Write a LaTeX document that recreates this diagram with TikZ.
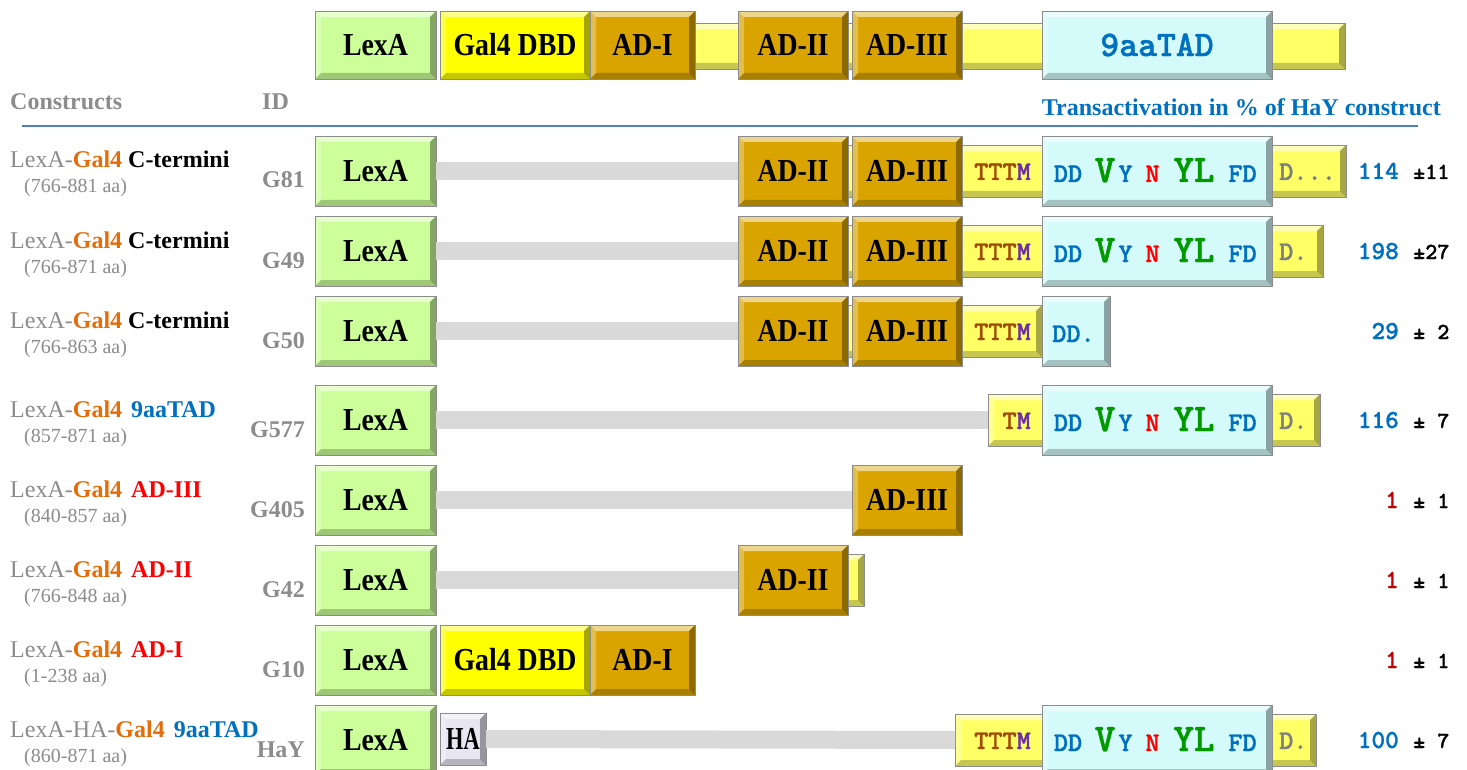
\documentclass[tikz,border=0pt]{standalone}
\usepackage{fontspec}
\setmainfont{Liberation Serif}
% heavy slab-serif typewriter face for sequences and values
\newfontfamily\monof{lmmonolt10-bold.otf}[FakeBold=1.2]

\definecolor{lexg}{HTML}{CCFF99}
\definecolor{galy}{HTML}{FFFF00}
\definecolor{adgold}{HTML}{D9A300}
\definecolor{paley}{HTML}{FFFF66}
\definecolor{tadc}{HTML}{D4FAFA}
\definecolor{hagray}{HTML}{E8E6F0}
\definecolor{linkg}{HTML}{D9D9D9}
\definecolor{txgray}{HTML}{8C8C8C}
\definecolor{galor}{HTML}{E46C0A}
\definecolor{tadblue}{HTML}{0070C0}
\definecolor{adred}{HTML}{FF0000}
\definecolor{numred}{HTML}{C00000}
\definecolor{seqgreen}{HTML}{009900}
\definecolor{thrbrown}{HTML}{A04A00}
\definecolor{metpurple}{HTML}{7030A0}
\definecolor{dgray}{HTML}{7F7F7F}
\definecolor{rulebl}{HTML}{4F81BD}

% condensed bold label inside a domain box
\newcommand\dl[1]{\scalebox{0.87}[1]{#1}}
% domain box from its corners: name, x1, y1, x2, y2, style, text
\newcommand\bx[7]{%
  \pgfmathsetmacro\bxw{(#4)-(#2)}\pgfmathsetmacro\bxh{(#5)-(#3)}%
  \node[#6, anchor=north west, minimum width=\bxw pt, minimum height=\bxh pt] (#1) at ({#2},{#3}) {#7};}
% full-height box and thinner bar around a row centre
\newcommand\bb[6]{\bx{#1}{#2}{(#4)-35}{#3}{(#4)+35}{dom=#5}{#6}}
\newcommand\yb[4]{\bx{#1}{#2}{(#4)-26}{#3}{(#4)+26}{dom=paley}{}}
% construct name, residue range and ID on the left
\newcommand\constr[5]{%
  \node[lab1, anchor=base west] (#1-l1) at (10,{#2-3}) {#3};
  \node[lab2, anchor=base west] (#1-l2) at (24,{#2+22}) {#4};
  \node[idlab, anchor=base east] (#1-id) at (305,{#2+17}) {#5};}
% 9aaTAD sequence motif inside a cyan box starting at x=1042
\newcommand\tadseq[2]{%
  \node[sqs,text=tadblue] (#1-dd) at (1068,{#2+11}) {DD};
  \node[sqb,text=seqgreen] (#1-v) at (1105,{#2+11}) {V};
  \node[sqs,text=tadblue] (#1-y) at (1125.5,{#2+11}) {Y};
  \node[sqs,text=adred] (#1-n) at (1152.5,{#2+11}) {N};
  \node[sqb,text=seqgreen] (#1-yl) at (1194,{#2+11}) {YL};
  \node[sqs,text=tadblue] (#1-fd) at (1242.5,{#2+11}) {FD};}
\newcommand\thr[3]{\node[sqs, anchor=base east] (#1-t) at (1031,{#2+9}) {#3};}
\newcommand\tail[3]{\node[sqs, anchor=base west, text=dgray] (#1-tail) at (1279,{#2+9}) {#3};}
\newcommand\act[4]{%
  \node[numf, anchor=base east, text=#3] (#1-val) at (1399,{#2+8}) {#4};}
\newcommand\err[3]{\node[pmf, anchor=base west] (#1-err) at (1413,{#2+8}) {#3};}

\tikzset{
  bevel/.style={path picture={
    \path (path picture bounding box.north west) coordinate (pnw)
          (path picture bounding box.north east) coordinate (pne)
          (path picture bounding box.south west) coordinate (psw)
          (path picture bounding box.south east) coordinate (pse);
    \fill[white,opacity=.55] (pnw) -- (pne) -- ([shift={(-6pt,-6pt)}]pne) -- ([shift={(6pt,-6pt)}]pnw) -- cycle;
    \fill[white,opacity=.3] (pnw) -- ([shift={(6pt,-6pt)}]pnw) -- ([shift={(6pt,6pt)}]psw) -- (psw) -- cycle;
    \fill[black,opacity=.35] (pne) -- (pse) -- ([shift={(-6pt,6pt)}]pse) -- ([shift={(-6pt,-6pt)}]pne) -- cycle;
    \fill[black,opacity=.22] (psw) -- (pse) -- ([shift={(-6pt,6pt)}]pse) -- ([shift={(6pt,6pt)}]psw) -- cycle;
  }},
  dom/.style={draw=black!45, line width=0.9pt, inner sep=0pt, outer sep=0pt,
    fill=#1, bevel, font=\bfseries\fontsize{32}{32}\selectfont},
  link/.style={draw=linkg, line width=18pt, line cap=butt},
  lab1/.style={inner sep=0pt, font=\fontsize{24}{24}\selectfont},
  lab2/.style={inner sep=0pt, text=txgray, font=\fontsize{20}{20}\selectfont},
  idlab/.style={inner sep=0pt, text=txgray, font=\bfseries\fontsize{24}{24}\selectfont},
  hdr/.style={inner sep=0pt, font=\bfseries\fontsize{24}{24}\selectfont},
  sqs/.style={inner sep=0pt, anchor=base, font=\monof\fontsize{27}{27}\selectfont},
  sqb/.style={inner sep=0pt, anchor=base, font=\monof\fontsize{39}{39}\selectfont},
  numf/.style={inner sep=0pt, font=\monof\fontsize{26}{26}\selectfont},
  pmf/.style={inner sep=0pt, font=\monof\fontsize{23}{23}\selectfont},
}

\newcommand\gal{{\bfseries\color{galor}Gal4}}
\newcommand\lx{{\color{txgray}LexA-}}

\begin{document}
\begin{tikzpicture}[x=1pt, y=-1pt]
\useasboundingbox (0,0) rectangle (1467,770);
\fill[white] (0,0) rectangle (1467,770);
\clip (0,0) rectangle (1467,770);

% full-length Gal4 domain map
\bx{h-lexa}{315}{11}{436}{79}{dom=lexg}{\dl{LexA}}
\bx{h-bar}{690}{23}{1345}{69}{dom=paley}{}
\bx{h-dbd}{440}{11}{590}{79}{dom=galy}{\dl{Gal4 DBD}}
\bx{h-ad1}{590}{11}{695}{79}{dom=adgold}{\dl{AD-I}}
\bx{h-ad2}{738}{11}{848}{79}{dom=adgold}{\dl{AD-II}}
\bx{h-ad3}{852}{11}{962}{79}{dom=adgold}{\dl{AD-III}}
\bx{h-tad}{1042}{11}{1272}{79}{dom=tadc}{\color{tadblue}\monof\fontsize{36}{36}\selectfont 9aaTAD}

% column headings and rule
\node[hdr, anchor=base west, text=txgray] (hd-con) at (10,110) {Constructs};
\node[hdr, anchor=base west, text=txgray] (hd-id) at (262,110) {ID};
\node[hdr, anchor=base east, text=tadblue] (hd-ta) at (1441,116) {Transactivation in \% of HaY construct};
\coordinate (rule-l) at (22,126);
\coordinate (rule-r) at (1418,126);
\draw[rulebl, line width=1.3pt] (rule-l) -- (rule-r);

% G81
\constr{g81}{171}{\lx\gal{} {\bfseries C-termini}}{(766-881 aa)}{G81}
\bb{g81-lexa}{315}{436}{171}{lexg}{\dl{LexA}}
\yb{g81-bar}{745}{1346}{171}
\bb{g81-ad2}{738}{848}{171}{adgold}{\dl{AD-II}}
\bb{g81-ad3}{852}{962}{171}{adgold}{\dl{AD-III}}
\bb{g81-tad}{1042}{1272}{171}{tadc}{}
\draw[link] (g81-lexa.east) -- (g81-ad2.west);
\thr{g81}{171}{\color{thrbrown}TTT\color{metpurple}M}
\tadseq{g81}{171}
\tail{g81}{171}{D...}
\act{g81}{171}{tadblue}{114}
\err{g81}{171}{±11}

% G49
\constr{g49}{251}{\lx\gal{} {\bfseries C-termini}}{(766-871 aa)}{G49}
\bb{g49-lexa}{315}{436}{251}{lexg}{\dl{LexA}}
\yb{g49-bar}{745}{1323}{251}
\bb{g49-ad2}{738}{848}{251}{adgold}{\dl{AD-II}}
\bb{g49-ad3}{852}{962}{251}{adgold}{\dl{AD-III}}
\bb{g49-tad}{1042}{1272}{251}{tadc}{}
\draw[link] (g49-lexa.east) -- (g49-ad2.west);
\thr{g49}{251}{\color{thrbrown}TTT\color{metpurple}M}
\tadseq{g49}{251}
\tail{g49}{251}{D.}
\act{g49}{251}{tadblue}{198}
\err{g49}{251}{±27}

% G50
\constr{g50}{331}{\lx\gal{} {\bfseries C-termini}}{(766-863 aa)}{G50}
\bb{g50-lexa}{315}{436}{331}{lexg}{\dl{LexA}}
\yb{g50-bar}{745}{1042}{331}
\bb{g50-ad2}{738}{848}{331}{adgold}{\dl{AD-II}}
\bb{g50-ad3}{852}{962}{331}{adgold}{\dl{AD-III}}
\bb{g50-tad}{1042}{1110}{331}{tadc}{}
\draw[link] (g50-lexa.east) -- (g50-ad2.west);
\thr{g50}{331}{\color{thrbrown}TTT\color{metpurple}M}
\node[sqs, anchor=base west, text=tadblue] (g50-dd) at (1052,342) {DD.};
\act{g50}{331}{tadblue}{29}
\err{g50}{331}{± 2}

% G577
\constr{g577}{420}{\lx\gal\hspace{9pt}{\bfseries\color{tadblue}9aaTAD}}{(857-871 aa)}{G577}
\bb{g577-lexa}{315}{436}{420}{lexg}{\dl{LexA}}
\yb{g577-bar}{988}{1320}{420}
\bb{g577-tad}{1042}{1272}{420}{tadc}{}
\draw[link] (g577-lexa.east) -- (g577-bar.west);
\thr{g577}{420}{\color{thrbrown}T\color{metpurple}M}
\tadseq{g577}{420}
\tail{g577}{420}{D.}
\act{g577}{420}{tadblue}{116}
\err{g577}{420}{± 7}

% G405
\constr{g405}{500}{\lx\gal\hspace{9pt}{\bfseries\color{adred}AD-III}}{(840-857 aa)}{G405}
\bb{g405-lexa}{315}{436}{500}{lexg}{\dl{LexA}}
\bb{g405-ad3}{852}{962}{500}{adgold}{\dl{AD-III}}
\draw[link] (g405-lexa.east) -- (g405-ad3.west);
\act{g405}{500}{numred}{1}
\err{g405}{500}{± 1}

% G42
\constr{g42}{580}{\lx\gal\hspace{9pt}{\bfseries\color{adred}AD-II}}{(766-848 aa)}{G42}
\bb{g42-lexa}{315}{436}{580}{lexg}{\dl{LexA}}
\yb{g42-bar}{745}{864}{580}
\bb{g42-ad2}{738}{848}{580}{adgold}{\dl{AD-II}}
\draw[link] (g42-lexa.east) -- (g42-ad2.west);
\act{g42}{580}{numred}{1}
\err{g42}{580}{± 1}

% G10
\constr{g10}{660}{\lx\gal\hspace{9pt}{\bfseries\color{adred}AD-I}}{(1-238 aa)}{G10}
\bb{g10-lexa}{315}{436}{660}{lexg}{\dl{LexA}}
\bb{g10-dbd}{440}{590}{660}{galy}{\dl{Gal4 DBD}}
\bb{g10-ad1}{590}{695}{660}{adgold}{\dl{AD-I}}
\act{g10}{660}{numred}{1}
\err{g10}{660}{± 1}

% HaY
\constr{hay}{740}{{\color{txgray}LexA-HA-}\gal\hspace{9pt}{\bfseries\color{tadblue}9aaTAD}}{(860-871 aa)}{HaY}
\bb{hay-lexa}{315}{436}{740}{lexg}{\dl{LexA}}
\bx{hay-ha}{440}{713}{486}{765}{dom=hagray}{\scalebox{0.7}[1]{HA}}
\yb{hay-bar}{955}{1316}{740}
\bb{hay-tad}{1042}{1272}{740}{tadc}{}
\draw[link] (hay-ha.east) -- (hay-bar.west);
\thr{hay}{740}{\color{thrbrown}TTT\color{metpurple}M}
\tadseq{hay}{740}
\tail{hay}{740}{D.}
\act{hay}{740}{tadblue}{100}
\err{hay}{740}{± 7}
\end{tikzpicture}
\end{document}
